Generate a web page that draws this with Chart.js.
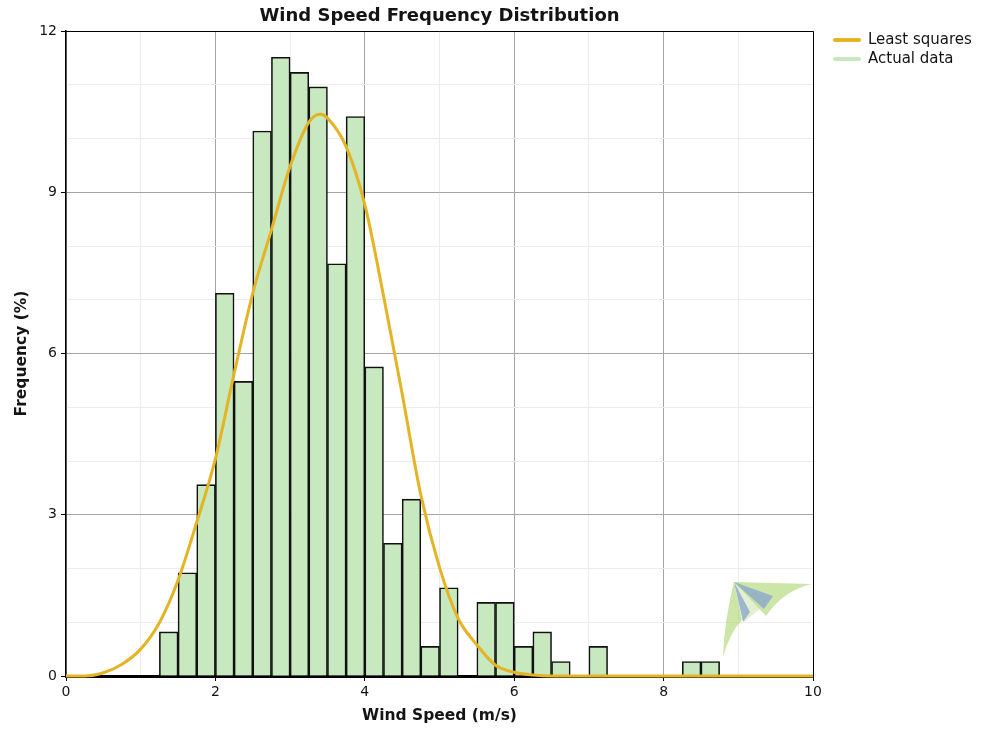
<!DOCTYPE html>
<html>
<head>
<meta charset="utf-8">
<title>Wind Speed Frequency Distribution</title>
<script src="https://cdn.jsdelivr.net/npm/chart.js@4.4.1/dist/chart.umd.min.js"></script>
<style>
  html, body { margin: 0; padding: 0; background: #fff; }
  #wrap { width: 984px; height: 734px; }
</style>
</head>
<body>
<div id="wrap"><canvas id="windChart" width="984" height="734"></canvas></div>
<script>
// ---- histogram: lower edge of each 0.25 m/s bin and its frequency (%) ----
const binWidth = 0.25;
const binStart = [1.25, 1.5, 1.75, 2.0, 2.25, 2.5, 2.75, 3.0, 3.25, 3.5, 3.75, 4.0,
                  4.25, 4.5, 4.75, 5.0, 5.5, 5.75, 6.0, 6.25, 6.5, 7.0, 8.25, 8.5];
const binFreq  = [0.82, 1.92, 3.56, 7.12, 5.48, 10.14, 11.51, 11.23, 10.96, 7.67, 10.41, 5.75,
                  2.47, 3.29, 0.55, 1.64, 1.37, 1.37, 0.55, 0.82, 0.27, 0.55, 0.27, 0.27];

// ---- least squares fit curve ----
const fitSpeed = [0, 0.25, 0.5, 0.75, 1.0, 1.25, 1.5, 1.75, 2.0, 2.25, 2.5, 2.75, 3.0, 3.25,
                  3.4, 3.5, 3.75, 4.0, 4.25, 4.5, 4.75, 5.0, 5.25, 5.5, 5.75, 6.0, 6.25, 6.5,
                  7, 8, 9, 10];
const fitFreq  = [0, 0, 0.06, 0.22, 0.50, 0.99, 1.78, 2.86, 4.04, 5.62, 7.12, 8.30, 9.48, 10.30,
                  10.45, 10.38, 9.85, 8.77, 7.08, 5.25, 3.37, 2.02, 1.07, 0.58, 0.20, 0.07, 0.02, 0,
                  0, 0, 0, 0];

// ---- axes ----
const xTickLabels = ["0", "2", "4", "6", "8", "10"];
const yTickLabels = ["0", "3", "6", "9", "12"];

const FONT = "'DejaVu Sans', Verdana, sans-serif";
const TEXT = "#141414";
const FIT_COLOR = "#e4b424";
const BAR_COLOR = "#c8e8c0";

const histData = binStart.map((s, i) => ({ x: s + binWidth / 2, y: binFreq[i] }));
const fitData = fitSpeed.map((s, i) => ({ x: s, y: fitFreq[i] }));

// outer frame of the plot area (top and right edges)
const frame = {
  id: "frame",
  afterDraw(chart) {
    const { ctx, chartArea: a } = chart;
    ctx.save();
    ctx.strokeStyle = "#000";
    ctx.lineWidth = 1;
    ctx.beginPath();
    ctx.moveTo(a.left, a.top + 0.5);
    ctx.lineTo(a.right + 0.5, a.top + 0.5);
    ctx.lineTo(a.right + 0.5, a.bottom);
    ctx.stroke();
    ctx.restore();
  }
};

// small pale kite logo in the lower right corner of the plot
const logo = {
  id: "logo",
  beforeDatasetsDraw(chart) {
    const { ctx, chartArea: a } = chart;
    const ox = a.right - 79, oy = a.bottom - 94;
    ctx.save();
    ctx.fillStyle = "rgba(170, 214, 110, 0.6)";
    // right wing
    ctx.beginPath();
    ctx.moveTo(ox, oy);
    ctx.lineTo(ox + 78, oy + 2);
    ctx.quadraticCurveTo(ox + 50, oy + 8, ox + 32, oy + 34);
    ctx.closePath();
    ctx.fill();
    // lower wing
    ctx.beginPath();
    ctx.moveTo(ox, oy);
    ctx.lineTo(ox + 8, oy + 38);
    ctx.quadraticCurveTo(ox - 4, oy + 50, ox - 11, oy + 75);
    ctx.quadraticCurveTo(ox - 10, oy + 40, ox, oy);
    ctx.fill();
    // pale centre
    ctx.fillStyle = "rgba(190, 222, 150, 0.45)";
    ctx.beginPath();
    ctx.moveTo(ox, oy);
    ctx.lineTo(ox + 38, oy + 17);
    ctx.lineTo(ox + 10, oy + 40);
    ctx.closePath();
    ctx.fill();
    // blue blades
    ctx.fillStyle = "rgba(140, 168, 205, 0.8)";
    ctx.beginPath();
    ctx.moveTo(ox, oy);
    ctx.lineTo(ox + 39, oy + 14);
    ctx.lineTo(ox + 30, oy + 27);
    ctx.closePath();
    ctx.fill();
    ctx.beginPath();
    ctx.moveTo(ox, oy);
    ctx.lineTo(ox + 16, oy + 30);
    ctx.lineTo(ox + 9, oy + 40);
    ctx.closePath();
    ctx.fill();
    ctx.restore();
  }
};

// legend to the right of the plot
const sideLegend = {
  id: "sideLegend",
  afterDraw(chart) {
    const { ctx, chartArea: a } = chart;
    const items = [
      { text: "Least squares", color: FIT_COLOR },
      { text: "Actual data", color: BAR_COLOR }
    ];
    ctx.save();
    ctx.font = "15px " + FONT;
    ctx.textBaseline = "middle";
    ctx.lineCap = "round";
    items.forEach((it, i) => {
      const y = a.top + 9 + i * 19;
      ctx.strokeStyle = it.color;
      ctx.lineWidth = 4;
      ctx.beginPath();
      ctx.moveTo(a.right + 22, y);
      ctx.lineTo(a.right + 46, y);
      ctx.stroke();
      ctx.fillStyle = TEXT;
      ctx.fillText(it.text, a.right + 55, y);
    });
    ctx.restore();
  }
};

function isMajor(c, step) {
  return c.tick && Math.abs(c.tick.value % step) < 1e-9;
}
function majorEvery(step) {
  return c => isMajor(c, step) ? "#a4a4a4" : "#ececec";
}
function tickMarkEvery(step) {
  return c => isMajor(c, step) ? "#000" : "rgba(0,0,0,0)";
}

new Chart(document.getElementById("windChart"), {
  data: {
    datasets: [
      {
        type: "line",
        label: "Least squares",
        data: fitData,
        borderColor: FIT_COLOR,
        backgroundColor: FIT_COLOR,
        borderWidth: 3,
        pointRadius: 0,
        cubicInterpolationMode: "monotone",
        clip: 6,
        order: 0
      },
      {
        type: "bar",
        label: "Actual data",
        data: histData,
        backgroundColor: BAR_COLOR,
        borderColor: "#111",
        borderWidth: 1.6,
        barPercentage: 1,
        categoryPercentage: 1,
        order: 1
      }
    ]
  },
  options: {
    responsive: false,
    animation: false,
    layout: { padding: { top: 0, right: 171, bottom: 0, left: 0 } },
    plugins: {
      legend: { display: false },
      tooltip: { enabled: false },
      title: {
        display: true,
        text: "Wind Speed Frequency Distribution",
        fullSize: false,
        color: TEXT,
        font: { family: FONT, size: 18, weight: "bold" },
        padding: { top: 6, bottom: 3.4 }
      }
    },
    scales: {
      x: {
        type: "linear",
        min: 0,
        max: 10,
        offset: false,
        afterFit: s => { s.height = 58; },
        border: { display: true, color: "#000", width: 3 },
        grid: {
          offset: false,
          color: majorEvery(2),
          tickColor: tickMarkEvery(2),
          tickLength: 5,
          lineWidth: 1
        },
        ticks: {
          stepSize: 1,
          autoSkip: false,
          maxRotation: 0,
          padding: 3,
          color: TEXT,
          font: { family: FONT, size: 14 },
          callback: v => (v % 2 === 0 ? xTickLabels[v / 2] : "")
        },
        title: {
          display: true,
          text: "Wind Speed (m/s)",
          color: TEXT,
          font: { family: FONT, size: 15.5, weight: "bold" },
          padding: { top: 0, bottom: 9 }
        }
      },
      y: {
        min: 0,
        max: 12,
        afterFit: s => { s.width = 66; },
        border: { display: true, color: "#000", width: 1.5 },
        grid: {
          color: majorEvery(3),
          tickColor: tickMarkEvery(3),
          tickLength: 5,
          lineWidth: 1
        },
        ticks: {
          stepSize: 1,
          autoSkip: false,
          padding: 4,
          color: TEXT,
          font: { family: FONT, size: 14 },
          callback: v => (v % 3 === 0 ? yTickLabels[v / 3] : "")
        },
        title: {
          display: true,
          text: "Frequency (%)",
          color: TEXT,
          font: { family: FONT, size: 15.5, weight: "bold" },
          padding: { top: 13, bottom: 0 }
        }
      }
    }
  },
  plugins: [logo, frame, sideLegend]
});
</script>
</body>
</html>
